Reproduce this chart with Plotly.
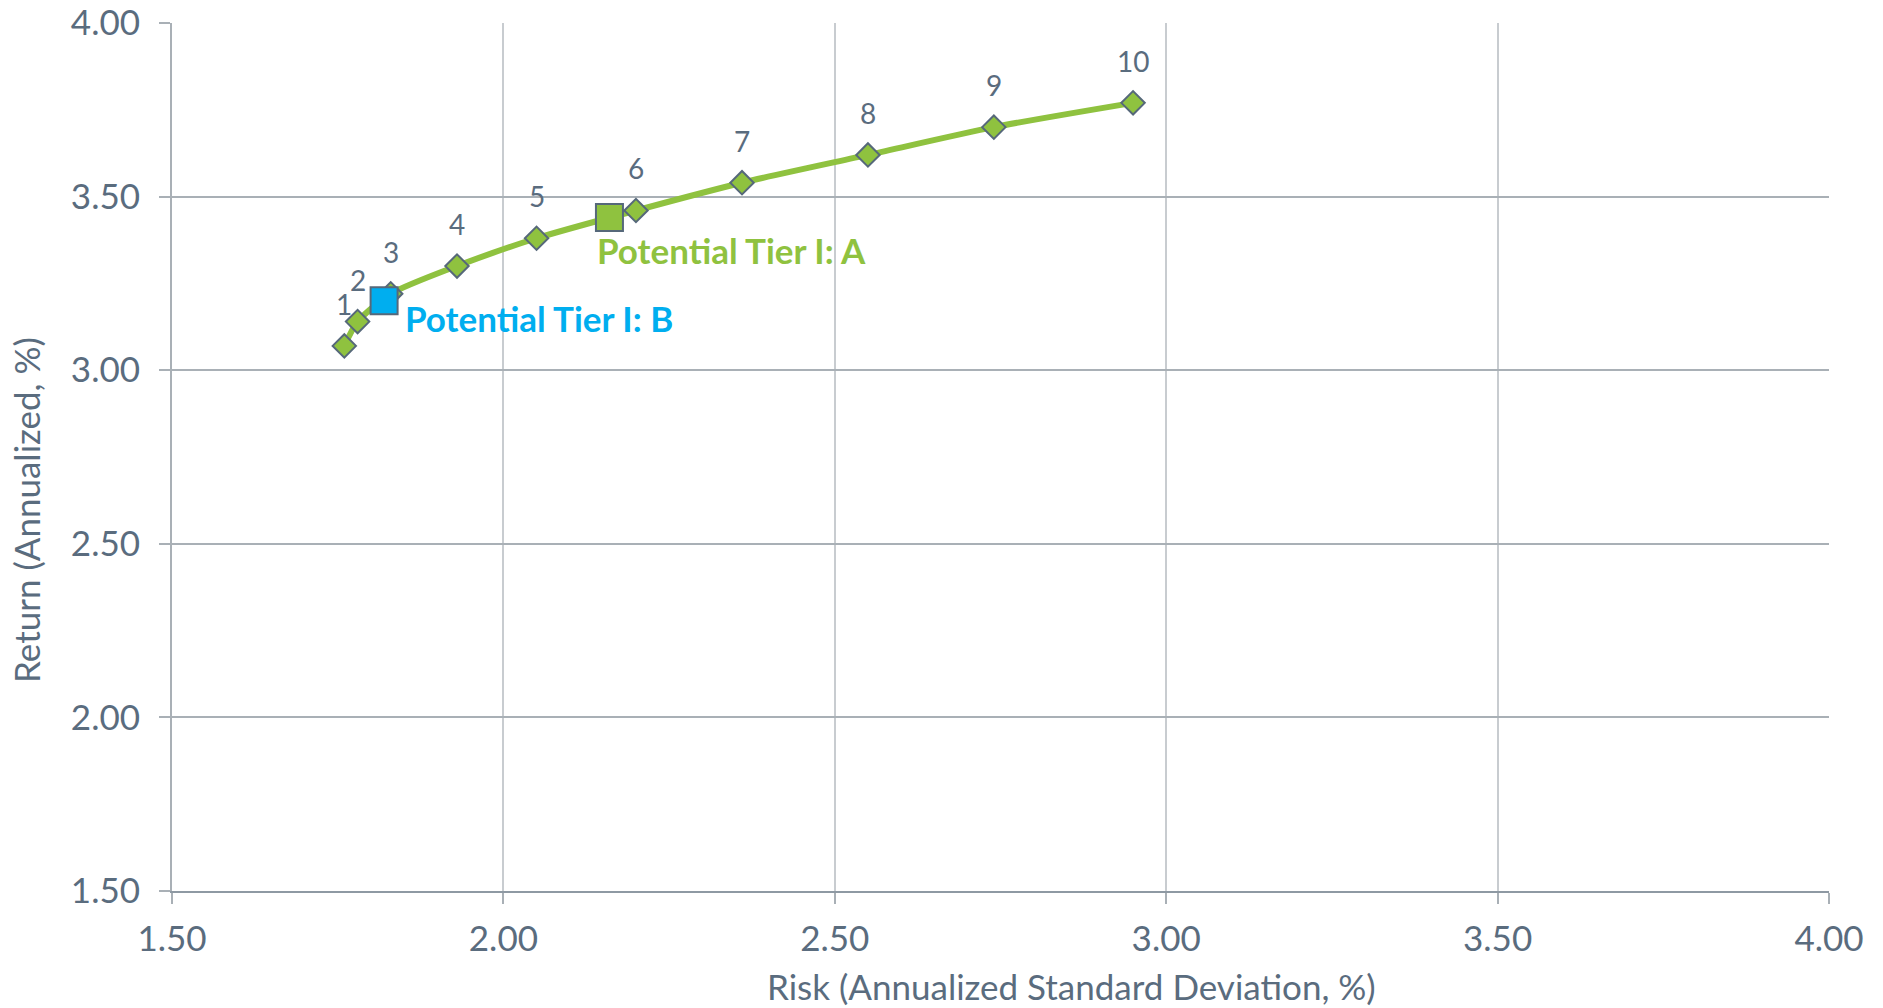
import plotly.graph_objects as go

# ---- data ----
portfolio_ids = ["1", "2", "3", "4", "5", "6", "7", "8", "9", "10"]
risk = [1.76, 1.78, 1.83, 1.93, 2.05, 2.20, 2.36, 2.55, 2.74, 2.95]
ret = [3.07, 3.14, 3.22, 3.30, 3.38, 3.46, 3.54, 3.62, 3.70, 3.77]

tier_names = ["Potential Tier I: A", "Potential Tier I: B"]
tier_risk = [2.16, 1.82]
tier_ret = [3.44, 3.20]

x_ticks = [1.5, 2.0, 2.5, 3.0, 3.5, 4.0]
y_ticks = [1.5, 2.0, 2.5, 3.0, 3.5, 4.0]

# ---- styles ----
GREEN = "#8FC23F"
BLUE = "#00AEEF"
OUTLINE = "#56687A"
TEXT = "#5A6C7E"
FONT = "Lato"
FS = 35

fig = go.Figure()

fig.add_trace(go.Scatter(
    x=risk, y=ret, mode="lines+markers",
    line=dict(color=GREEN, width=6, shape="spline", smoothing=0.7),
    marker=dict(symbol="diamond", size=18, color=GREEN,
                line=dict(color=OUTLINE, width=2)),
    showlegend=False, hoverinfo="x+y",
))

tier_colors = [GREEN, BLUE]
fig.add_trace(go.Scatter(
    x=tier_risk, y=tier_ret, mode="markers",
    marker=dict(symbol="square", size=27, color=tier_colors,
                line=dict(color=OUTLINE, width=2)),
    showlegend=False, hoverinfo="x+y",
))

annotations = []
for pid, xv, yv in zip(portfolio_ids, risk, ret):
    annotations.append(dict(
        x=xv, y=yv, xref="x", yref="y", text=pid, showarrow=False,
        yshift=42, font=dict(family=FONT, size=28, color=TEXT),
    ))

tier_shifts = [(-14, -33), (19, -17)]
for name, xv, yv, col, (dx, dy) in zip(tier_names, tier_risk, tier_ret, tier_colors, tier_shifts):
    annotations.append(dict(
        x=xv, y=yv, xref="x", yref="y", text="<b>%s</b>" % name, showarrow=False,
        xanchor="left", yanchor="middle", xshift=dx, yshift=dy,
        font=dict(family=FONT, size=FS, color=col),
    ))

W, H = 1883, 1008
ML, MT, MR, MB = 172, 23, 54, 117
PW = W - ML - MR
PH = H - MT - MB

def paper_x(px):
    return (px - ML) / PW

def paper_y(py):
    return (H - MB - py) / PH

annotations.append(dict(
    x=paper_x(1071), y=paper_y(986), xref="paper", yref="paper",
    xanchor="center", yanchor="middle",
    text="Risk (Annualized Standard Deviation, %)",
    showarrow=False, font=dict(family=FONT, size=FS, color=TEXT),
))
annotations.append(dict(
    x=paper_x(26), y=paper_y(510), xref="paper", yref="paper",
    xanchor="center", yanchor="middle",
    text="Return (Annualized, %)",
    showarrow=False, textangle=-90, font=dict(family=FONT, size=FS, color=TEXT),
))

fig.update_layout(
    width=W, height=H,
    margin=dict(l=ML, r=MR, t=MT, b=MB, pad=0),
    paper_bgcolor="white", plot_bgcolor="white",
    font=dict(family=FONT, size=FS, color=TEXT),
    annotations=annotations,
    xaxis=dict(
        range=[1.5, 4.0], tickvals=x_ticks, ticktext=["%.2f" % v for v in x_ticks],
        showgrid=True, gridcolor="#C8CCD0", gridwidth=1.5,
        showline=True, linecolor="#8E99A3", linewidth=2,
        ticks="outside", ticklen=11, tickcolor="#A9B0B6", tickwidth=1.5,
        ticklabelstandoff=5, zeroline=False, automargin=False,
        ticklabeloverflow="allow",
        tickfont=dict(family=FONT, size=FS, color=TEXT),
    ),
    yaxis=dict(
        range=[1.5, 4.0], tickvals=y_ticks, ticktext=["%.2f" % v for v in y_ticks],
        showgrid=True, gridcolor="#A9B0B6", gridwidth=1.5,
        showline=True, linecolor="#A9B0B6", linewidth=2,
        ticks="outside", ticklen=11, tickcolor="#A9B0B6", tickwidth=1.5,
        ticklabelstandoff=12, zeroline=False, automargin=False,
        ticklabeloverflow="allow",
        tickfont=dict(family=FONT, size=FS, color=TEXT),
    ),
)

# remove the browser's default 8px body margin so the figure fills the window exactly
fig.write_html(
    "out.html",
    config={"displayModeBar": False},
    post_script="document.body.style.margin='0';document.body.style.overflow='hidden';",
)
